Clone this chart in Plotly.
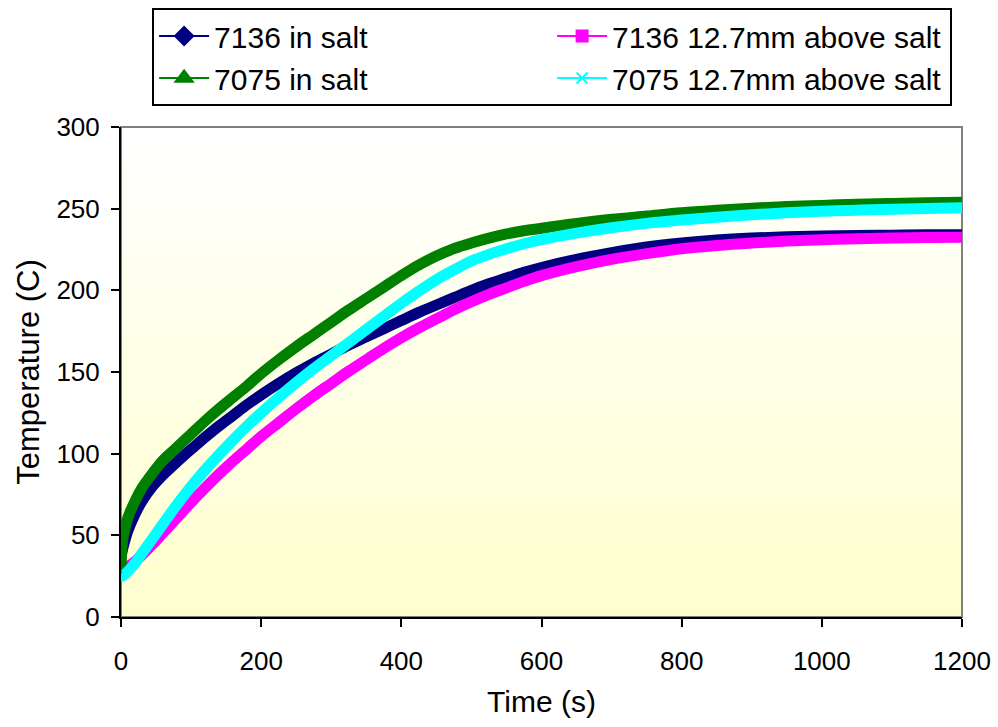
import plotly.graph_objects as go

# Sample times (s)
time_s = [0, 2, 5, 10, 20, 30, 45, 60, 75, 90, 105, 120, 140, 160, 180, 200,
          225, 250, 275, 300, 325, 350, 375, 400, 425, 450, 475, 500, 525, 550,
          575, 600, 650, 700, 750, 800, 850, 900, 950, 1000, 1050, 1100, 1150, 1200]

# Temperatures (C)
t7136_salt = [37, 41, 46, 53, 63, 71, 80, 87, 93, 99, 104.5, 110, 117, 123.5, 130, 136,
              143, 149.5, 155.5, 161, 166.5, 171.5, 176.5, 181.5, 186.5, 191, 195.5, 200, 204, 207.5,
              211, 214, 219, 223, 226.5, 229, 230.8, 232, 232.8, 233.3, 233.6, 233.8, 234, 234]
t7136_above = [30, 30, 30, 31, 34, 38, 44.5, 51.5, 58.5, 65.5, 72.5, 79, 87.5, 95.5, 103, 110.5,
               119, 127.5, 135.5, 143, 150.5, 157.5, 164.5, 171, 177, 182.5, 188, 193, 197.5, 201.5,
               205.5, 209, 214.5, 219, 222.5, 225.5, 227.5, 229, 230.2, 231, 231.6, 232, 232.3, 232.5]
t7075_salt = [27, 46, 53, 61, 71, 79, 88, 96, 102, 108, 114, 120, 127.5, 134.5, 141.5, 149,
              157.5, 165.5, 173, 180.5, 188, 195, 202, 209, 215.5, 221, 225.5, 229, 232, 234.5,
              236.5, 238, 241, 243.5, 245.5, 247.5, 249, 250.3, 251.3, 252, 252.7, 253.2, 253.6, 254]
t7075_above = [25, 25, 26, 28, 33, 39, 48, 57, 66, 74.5, 82.5, 90, 99.5, 108.5, 117, 125,
               134.5, 143.5, 152, 160, 168, 176, 184, 192, 199.5, 206.5, 212.5, 218, 222, 225.5,
               228.5, 231, 235, 238.3, 241, 243, 244.8, 246.3, 247.5, 248.4, 249.1, 249.7, 250.1, 250.5]

x_ticks = [0, 200, 400, 600, 800, 1000, 1200]
y_ticks = [0, 50, 100, 150, 200, 250, 300]

series = [
    ("7136 in salt", t7136_salt, "#000080", "diamond", 14),
    ("7136 12.7mm above salt", t7136_above, "#FF00FF", "square", 11),
    ("7075 in salt", t7075_salt, "#008000", "triangle-up", 15),
    ("7075 12.7mm above salt", t7075_above, "#00FFFF", "x-thin-open", 11),
]

FONT = "Liberation Sans, Arial, sans-serif"

fig = go.Figure()

# Dense marker bands
for name, vals, color, sym, size in series:
    fig.add_trace(go.Scatter(
        x=time_s, y=vals, mode="lines", name=name, showlegend=False,
        line=dict(color=color, width=11, shape="spline", smoothing=1.0,
                  simplify=False),
        hoverinfo="x+y+name",
    ))

# Legend entries (thin line + marker)
for name, vals, color, sym, size in series:
    fig.add_trace(go.Scatter(
        x=[None], y=[None], mode="lines+markers", name=name,
        line=dict(color=color, width=2),
        marker=dict(symbol=sym, size=size, color=color,
                    line=dict(color=color, width=2)),
    ))

# Vertical white-to-yellow gradient behind the plot area
shapes = []
n_bands = 80
for i in range(n_bands):
    f = i / (n_bands - 1)
    b = int(round(255 - 51 * (1 - f)))
    shapes.append(dict(
        type="rect", xref="x domain", yref="y domain",
        x0=0, x1=1, y0=i / n_bands, y1=(i + 1) / n_bands,
        fillcolor=f"rgb(255,255,{b})", line=dict(width=0), layer="below",
    ))
shapes.append(dict(
    type="rect", xref="x domain", yref="y domain", x0=0, x1=1, y0=0, y1=1,
    line=dict(color="#808080", width=2), layer="below",
))

fig.update_layout(
    width=998, height=727,
    margin=dict(l=121, r=36, t=127, b=110, autoexpand=False),
    paper_bgcolor="white", plot_bgcolor="white",
    font=dict(family=FONT, size=26, color="black"),
    shapes=shapes,
    showlegend=True,
    legend=dict(
        orientation="h", x=0.037, y=1.243, xanchor="left", yanchor="top",
        bgcolor="white", bordercolor="black", borderwidth=2,
        font=dict(family=FONT, size=30, color="black"),
        entrywidth=333, itemwidth=50, traceorder="normal",
    ),
    xaxis=dict(
        range=[0, 1200], tickvals=x_ticks, ticktext=[str(v) for v in x_ticks],
        showgrid=False, zeroline=False, showline=True, linecolor="black", linewidth=2,
        ticks="outside", ticklen=8, tickwidth=2, tickcolor="black",
        tickfont=dict(size=26), ticklabelstandoff=12,
        title=dict(text="Time (s)", font=dict(size=30), standoff=16),
    ),
    yaxis=dict(
        range=[0, 300], tickvals=y_ticks, ticktext=[str(v) for v in y_ticks],
        showgrid=False, zeroline=False, showline=True, linecolor="black", linewidth=2,
        ticks="outside", ticklen=8, tickwidth=2, tickcolor="black",
        tickfont=dict(size=26), ticklabelstandoff=6,
        title=dict(text="Temperature (C)", font=dict(size=31), standoff=8),
    ),
)

fig.write_html("out.html")
